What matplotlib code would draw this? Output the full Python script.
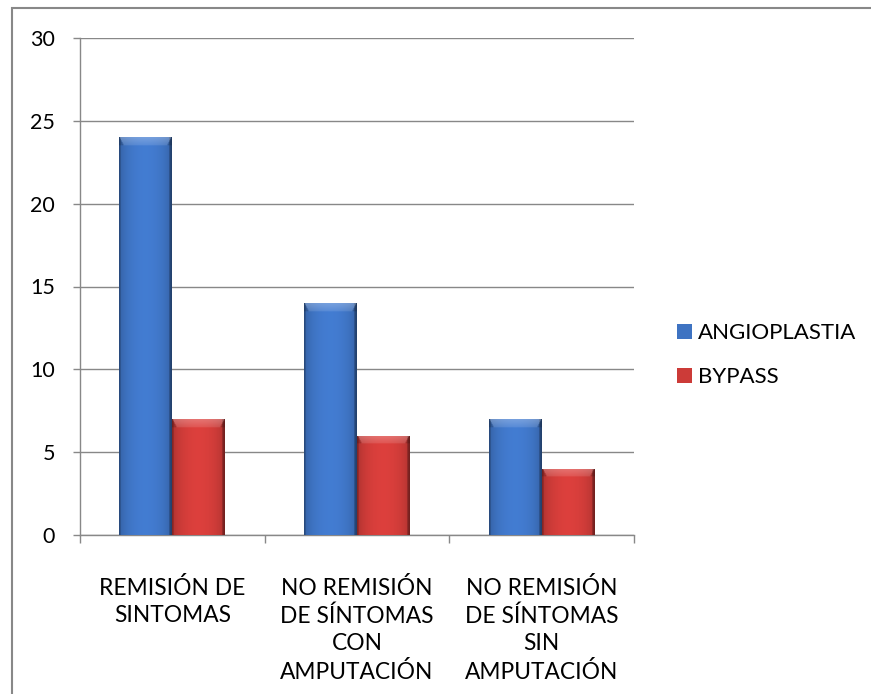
import matplotlib.pyplot as plt
import numpy as np
from matplotlib.patches import Rectangle, Patch
from matplotlib.colors import to_rgb

plt.rcParams['font.family'] = ['Lato', 'DejaVu Sans']

categories = ['REMISIÓN DE\nSINTOMAS',
              'NO REMISIÓN\nDE SÍNTOMAS\nCON\nAMPUTACIÓN',
              'NO REMISIÓN\nDE SÍNTOMAS\nSIN\nAMPUTACIÓN']
angioplastia = [24, 14, 7]
bypass = [7, 6, 4]
series_names = ['ANGIOPLASTIA', 'BYPASS']
colors = ['#3E73C2', '#CC3B38']
grey = '#888888'


def shade(ax, bar, color):
    # cylinder-like horizontal shading plus a bevel (trapezoid highlight) at the top
    x0, y0 = bar.get_x(), bar.get_y()
    w, h = bar.get_width(), bar.get_height()
    base = np.array(to_rgb(color))
    cols = 60
    rows = max(int(h * 20), 2)
    t = np.linspace(0, 1, cols)
    prof = 0.80 + 0.28 * np.sin(np.pi * t) ** 0.5
    prof[:2] *= 0.8
    prof[-3:] *= 0.7
    img = np.ones((rows, cols, 3)) * base
    img = img * prof[None, :, None]
    band = 0.5
    ydist = (np.arange(rows) + 0.5) / 20.0  # distance from top in data units
    for i, d in enumerate(ydist):
        if d >= band:
            break
        frac = d / band
        # inner trapezoid gets lighter, outer corners stay darker
        inner = (t > 0.08 * frac) & (t < 1 - 0.08 * frac)
        img[i, inner] = img[i, inner] + (1 - img[i, inner]) * 0.28 * (1 - 0.6 * frac)
        img[i, ~inner] *= 0.85
    img = np.clip(img, 0, 1)
    im = ax.imshow(img, extent=[x0, x0 + w, y0, y0 + h], origin='upper',
                   aspect='auto', zorder=3, interpolation='bilinear')
    im.set_clip_path(bar)


fig = plt.figure(figsize=(8.71, 6.94), dpi=100)
ax = fig.add_axes([80 / 871, 1 - 535 / 694, (634 - 80) / 871, (535 - 38) / 694])

x = np.arange(len(categories))
width = 0.287
b1 = ax.bar(x - width / 2, angioplastia, width, color=colors[0], zorder=2)
b2 = ax.bar(x + width / 2, bypass, width, color=colors[1], zorder=2)
for bars, c in zip([b1, b2], colors):
    for bar in bars:
        shade(ax, bar, c)

ax.set_xlim(-0.5, len(categories) - 0.5)
ax.set_ylim(0, 30)
ax.set_yticks(range(0, 31, 5))
ax.yaxis.grid(True, color=grey, linewidth=1.0, zorder=0)
ax.set_axisbelow(True)

ax.set_xticks(x)
ax.set_xticklabels(categories, fontsize=16.4, linespacing=1.37, va='top')
ax.set_xticks(np.arange(-0.5, len(categories)), minor=True)
ax.tick_params(axis='x', which='major', length=0, pad=30)
ax.tick_params(axis='x', which='minor', length=6, width=1.0, color=grey, direction='out')
ax.tick_params(axis='y', length=5, width=1.0, color=grey, pad=13, labelsize=15.5)

for side in ['top', 'right']:
    ax.spines[side].set_visible(False)
for side in ['left', 'bottom']:
    ax.spines[side].set_color(grey)
    ax.spines[side].set_linewidth(1.0)

handles = [Patch(facecolor=c, edgecolor='none') for c in colors]
fig.legend(handles, series_names, loc='center left',
           bbox_to_anchor=(677 / 871, 1 - 355 / 694), frameon=False,
           fontsize=16, handlelength=0.68, handleheight=0.68,
           handletextpad=0.27, labelspacing=1.08,
           borderpad=0, borderaxespad=0)

# outer chart frame (only left and top visible in the picture)
fig.patches.append(Rectangle((12 / 871, -0.1), 1.2, 1.1 - 8 / 694,
                             transform=fig.transFigure, fill=False,
                             edgecolor=grey, linewidth=1.5))

fig.savefig('out.png', dpi=100)
